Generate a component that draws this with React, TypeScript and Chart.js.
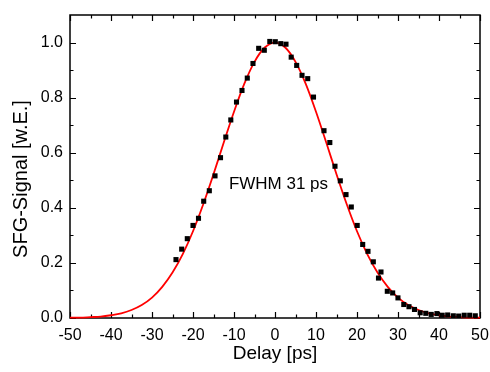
import React, { useEffect, useRef } from "react";
import { Chart, registerables } from "chart.js";

Chart.register(...registerables);

// Measured SFG data (black squares)
const delayPs = [
  -24.15, -22.76, -21.39, -20.0, -18.66, -17.39, -16.02, -14.63, -13.29, -12.0,
  -10.78, -9.39, -8.05, -6.76, -5.37, -3.98, -2.61, -1.27, 0.07, 1.41,
  2.68, 3.95, 5.29, 6.59, 7.98, 9.39, 11.95, 13.37, 14.63, 15.93,
  17.32, 18.61, 20.05, 21.39, 22.68, 23.98, 25.24, 25.85, 27.39, 28.7,
  29.99, 31.41, 32.68, 34.02, 35.41, 36.78, 38.1, 39.5, 40.78, 42.12,
  43.49, 44.8, 46.15, 47.49, 48.85,
];
const sfgSignal = [
  0.212, 0.25, 0.288, 0.336, 0.362, 0.424, 0.462, 0.516, 0.582, 0.657,
  0.719, 0.784, 0.826, 0.871, 0.924, 0.979, 0.972, 1.004, 1.003, 0.996,
  0.994, 0.947, 0.917, 0.881, 0.869, 0.802, 0.68, 0.637, 0.551, 0.498,
  0.448, 0.403, 0.336, 0.267, 0.242, 0.204, 0.145, 0.167, 0.097, 0.091,
  0.073, 0.049, 0.041, 0.031, 0.019, 0.017, 0.013, 0.016, 0.01, 0.011,
  0.008, 0.007, 0.01, 0.01, 0.008,
];

// Gaussian fit curve (red line)
const fitDelayPs = [
  -50, -47.5, -45, -42.5, -40, -37.5, -35, -32.5, -30, -27.5,
  -25, -22.5, -20, -17.5, -15, -12.5, -10, -7.5, -5, -2.5,
  0, 2.5, 5, 7.5, 10, 12.5, 15, 17.5, 20, 22.5,
  25, 27.5, 30, 32.5, 35, 37.5, 40, 42.5, 45, 47.5, 50,
];
const fitSignal = [
  0.001, 0.001, 0.003, 0.005, 0.01, 0.017, 0.029, 0.047, 0.074, 0.113,
  0.165, 0.232, 0.315, 0.413, 0.522, 0.637, 0.749, 0.85, 0.93, 0.982,
  1.0, 0.982, 0.93, 0.85, 0.749, 0.637, 0.522, 0.413, 0.315, 0.232,
  0.165, 0.113, 0.074, 0.047, 0.029, 0.017, 0.01, 0.005, 0.003, 0.001, 0.001,
];

const xTickValues = [-50, -40, -30, -20, -10, 0, 10, 20, 30, 40, 50];
const yTickValues = [0, 0.2, 0.4, 0.6, 0.8, 1.0];
const xMinorValues = [-45, -35, -25, -15, -5, 5, 15, 25, 35, 45];
const yMinorValues = [0.1, 0.3, 0.5, 0.7, 0.9];

const annotationText = "FWHM 31 ps";
const annotationAt = { x: 0.85, y: 0.468 };
const xTitle = "Delay [ps]";
const yTitle = "SFG-Signal [w.E.]";

const FONT = "'Liberation Sans', Arial, Helvetica, sans-serif";

const framePlugin = {
  id: "originFrame",
  beforeDatasetsDraw(chart: any) {
    const { ctx, chartArea: a, scales } = chart;
    const xs = scales.x;
    const ys = scales.y;
    ctx.save();
    ctx.strokeStyle = "#000";
    ctx.lineWidth = 1.5;
    ctx.strokeRect(a.left, a.top, a.right - a.left, a.bottom - a.top);
    ctx.lineWidth = 1.2;
    ctx.beginPath();
    const major = 6;
    const minor = 3.5;
    const xt = (v: number, len: number) => {
      const px = Math.round(xs.getPixelForValue(v)) + 0.5;
      ctx.moveTo(px, a.bottom);
      ctx.lineTo(px, a.bottom - len);
      ctx.moveTo(px, a.top);
      ctx.lineTo(px, a.top + len);
    };
    const yt = (v: number, len: number) => {
      const py = Math.round(ys.getPixelForValue(v)) + 0.5;
      ctx.moveTo(a.left, py);
      ctx.lineTo(a.left + len, py);
      ctx.moveTo(a.right, py);
      ctx.lineTo(a.right - len, py);
    };
    xTickValues.forEach((v) => xt(v, major));
    xMinorValues.forEach((v) => xt(v, minor));
    yTickValues.forEach((v) => yt(v, major));
    yMinorValues.forEach((v) => yt(v, minor));
    ctx.stroke();
    ctx.restore();
  },
  afterDraw(chart: any) {
    const { ctx, chartArea: a, scales } = chart;
    ctx.save();
    ctx.fillStyle = "#000";
    // annotation
    ctx.font = `17px ${FONT}`;
    ctx.textAlign = "center";
    ctx.textBaseline = "alphabetic";
    ctx.fillText(
      annotationText,
      scales.x.getPixelForValue(annotationAt.x),
      scales.y.getPixelForValue(annotationAt.y)
    );
    // x title
    ctx.font = `19px ${FONT}`;
    ctx.textBaseline = "middle";
    ctx.fillText(xTitle, (a.left + a.right) / 2, 354);
    // y title
    ctx.font = `20px ${FONT}`;
    ctx.translate(21, 179);
    ctx.rotate(-Math.PI / 2);
    ctx.fillText(yTitle, 0, 0);
    ctx.restore();
  },
};

export default function App() {
  const ref = useRef<HTMLCanvasElement | null>(null);

  useEffect(() => {
    document.body.style.margin = "0";
    const canvas = ref.current;
    if (!canvas) return;
    const chart = new Chart(canvas, {
      type: "scatter",
      data: {
        datasets: [
          {
            label: "SFG",
            data: delayPs.map((x, i) => ({ x, y: sfgSignal[i] })),
            pointStyle: "rect",
            pointRadius: 3.6,
            pointBorderWidth: 0,
            backgroundColor: "#000",
            borderColor: "#000",
            showLine: false,
            order: 0,
          },
          {
            label: "Fit",
            data: fitDelayPs.map((x, i) => ({ x, y: fitSignal[i] })),
            showLine: true,
            borderColor: "#ff0000",
            backgroundColor: "#ff0000",
            borderWidth: 1.8,
            pointRadius: 0,
            cubicInterpolationMode: "monotone",
            clip: false as any,
            order: 1,
          },
        ],
      },
      options: {
        responsive: false,
        animation: false,
        layout: { padding: { top: 15, right: 10, bottom: 0, left: 0 } },
        plugins: {
          legend: { display: false },
          tooltip: { enabled: false },
        },
        scales: {
          x: {
            type: "linear",
            min: -50,
            max: 50,
            grid: { display: false, drawTicks: false },
            border: { display: false },
            afterFit: (s: any) => {
              s.height = 54;
              s.paddingLeft = 0;
              s.paddingRight = 0;
            },
            afterBuildTicks: (s: any) => {
              s.ticks = xTickValues.map((v) => ({ value: v }));
            },
            ticks: {
              padding: 8,
              maxRotation: 0,
              autoSkip: false,
              color: "#000",
              font: { family: FONT, size: 16 },
              callback: (v: any) => String(v),
            },
          },
          y: {
            type: "linear",
            min: 0,
            max: 1.1,
            grid: { display: false, drawTicks: false },
            border: { display: false },
            afterFit: (s: any) => {
              s.width = 70;
              s.paddingTop = 0;
              s.paddingBottom = 0;
            },
            afterBuildTicks: (s: any) => {
              s.ticks = yTickValues.map((v) => ({ value: v }));
            },
            ticks: {
              padding: 7,
              autoSkip: false,
              color: "#000",
              font: { family: FONT, size: 16 },
              callback: (v: any) => Number(v).toFixed(1),
            },
          },
        },
      },
      plugins: [framePlugin],
    });
    return () => chart.destroy();
  }, []);

  return (
    <canvas
      ref={ref}
      width={490}
      height={372}
      style={{ display: "block", width: 490, height: 372 }}
    />
  );
}
